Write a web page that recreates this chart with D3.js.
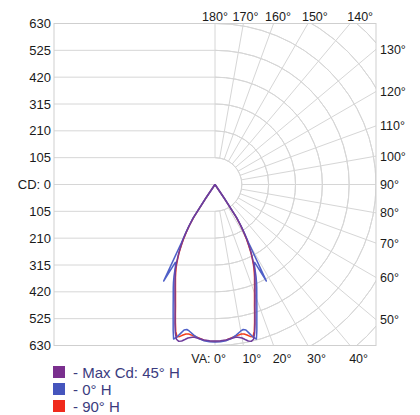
<!DOCTYPE html>
<html>
<head>
<meta charset="utf-8">
<script src="https://cdn.jsdelivr.net/npm/d3@7"></script>
<style>
  html, body { margin: 0; padding: 0; background: #fff; }
  svg { display: block; }
  text { font-family: "Liberation Sans", Arial, sans-serif; }
</style>
</head>
<body>
<svg id="chart" width="420" height="415"></svg>
<script>
// ---------- data ----------
const verticalAngles = [0,2,4,6,8,10,11,12,13,14,15,16,17,18,19,20,21,22,23,24,25,26,27,28,29,30,31,32,33,34,35,45,90,135,180];
const cdMax45H = [612,612,610,606,603,610,618,626,630,624,600,568,535,506,481,458,437,418,400,383,366,345,322,300,275,250,222,192,155,60,0,0,0,0,0];
const cd0H     = [616,616,613,606,595,582,578,582,598,615,626,594,560,530,503,478,456,436,416,395,372,352,342,428,325,262,228,196,162,66,0,0,0,0,0];
const cd90H    = [614,614,611,604,598,594,596,602,610,614,594,562,530,500,475,452,432,413,396,378,360,340,318,296,270,246,218,188,150,56,0,0,0,0,0];
const seriesNames = ["- Max Cd: 45\u00b0 H", "- 0\u00b0 H", "- 90\u00b0 H"];
const seriesColors = ["#7a2f8e", "#4555bd", "#f02a1c"];
const lineColors = ["#6f3c9c", "#4f60c8", "#f2401f"];
const cdTicks = [630,525,420,315,210,105,0,-105,-210,-315,-420,-525,-630];
const topAngleTicks = [180,170,160,150,140];
const rightAngleTicks = [130,120,110,100,90,80,70,60,50];
const bottomAngleTicks = [10,20,30,40];
const cdDomainMax = 630;

// ---------- layout ----------
const svg = d3.select("#chart");
const cx = 215, cy = 184.5, R = 161;
const x0 = cx - R, x1 = cx + R, y0 = cy - R, y1 = cy + R;
const gridColor = "#d6d6d6";
const textColor = "#1a1a1a";

const rScale = d3.scaleLinear().domain([0, cdDomainMax]).range([0, R]);
const yScale = d3.scaleLinear().domain([-cdDomainMax, cdDomainMax]).range([y1, y0]);

svg.append("defs").append("clipPath").attr("id", "boxclip")
  .append("rect").attr("x", x0).attr("y", y0).attr("width", x1 - x0).attr("height", y1 - y0);

const grid = svg.append("g");

// left half horizontal grid lines
grid.selectAll("line.h").data(cdTicks).join("line")
  .attr("x1", x0).attr("x2", cx)
  .attr("y1", d => yScale(d)).attr("y2", d => yScale(d))
  .attr("stroke", gridColor).attr("stroke-width", 1);

// right half polar arcs
const arcG = grid.append("g").attr("clip-path", "url(#boxclip)");
const arcRadii = d3.range(1, 9).map(k => k * R / 6);
arcG.selectAll("path.arc").data(arcRadii).join("path")
  .attr("d", r => d3.arc()({innerRadius: r, outerRadius: r, startAngle: 0, endAngle: Math.PI}))
  .attr("transform", `translate(${cx},${cy})`)
  .attr("fill", "none").attr("stroke", gridColor).attr("stroke-width", 1);

// radial lines from inner circle to box edge, every 10 degrees (0 = down)
function boxHit(deg) {
  const t = deg * Math.PI / 180;
  const dx = Math.sin(t), dy = Math.cos(t);
  let s = Infinity;
  if (dx > 1e-9) s = Math.min(s, R / dx);
  if (Math.abs(dy) > 1e-9) s = Math.min(s, R / Math.abs(dy));
  return [cx + dx * s, cy + dy * s];
}
const radialAngles = d3.range(0, 181, 10);
grid.selectAll("line.rad").data(radialAngles).join("line")
  .attr("x1", d => cx + Math.sin(d * Math.PI / 180) * R / 6)
  .attr("y1", d => cy + Math.cos(d * Math.PI / 180) * R / 6)
  .attr("x2", d => boxHit(d)[0])
  .attr("y2", d => boxHit(d)[1])
  .attr("stroke", gridColor).attr("stroke-width", 1);

// box border
grid.append("rect").attr("x", x0).attr("y", y0).attr("width", x1 - x0).attr("height", y1 - y0)
  .attr("fill", "none").attr("stroke", "#cfcfcf").attr("stroke-width", 1);

// ---------- axis labels ----------
const labels = svg.append("g").attr("fill", textColor);
labels.selectAll("text.cd").data(cdTicks).join("text")
  .style("font-size", "13px")
  .attr("x", x0 - 3).attr("y", d => yScale(d) + 4.5)
  .attr("text-anchor", "end")
  .text(d => d === 0 ? "CD: 0" : String(Math.abs(d)));

labels.selectAll("text.top").data(topAngleTicks).join("text")
  .style("font-size", "12.5px")
  .attr("x", d => cx + (R + 12) * Math.tan((180 - d) * Math.PI / 180))
  .attr("y", y0 - 3)
  .attr("text-anchor", "middle")
  .text(d => d + "\u00b0");

labels.selectAll("text.right").data(rightAngleTicks).join("text")
  .style("font-size", "12.5px")
  .attr("x", x1 + 4)
  .attr("y", d => boxHit(d)[1] + 4.5)
  .attr("text-anchor", "start")
  .text(d => d + "\u00b0");

labels.selectAll("text.bottom").data(bottomAngleTicks).join("text")
  .style("font-size", "12.5px")
  .attr("x", d => boxHit(180 - d)[0] + 8.5)
  .attr("y", y1 + 17.5)
  .attr("text-anchor", "middle")
  .text(d => d + "\u00b0");

labels.append("text").style("font-size", "12.5px")
  .attr("x", cx + 11).attr("y", y1 + 17.5)
  .attr("text-anchor", "end").text("VA: 0\u00b0");

// ---------- curves ----------
function mirrored(values) {
  const pts = [];
  for (let i = verticalAngles.length - 1; i >= 0; i--) pts.push([-verticalAngles[i], values[i]]);
  for (let i = 1; i < verticalAngles.length; i++) pts.push([verticalAngles[i], values[i]]);
  return pts;
}
const radial = d3.lineRadial()
  .angle(d => Math.PI - d[0] * Math.PI / 180)
  .radius(d => rScale(d[1]));

const curveG = svg.append("g").attr("transform", `translate(${cx},${cy})`);
const drawOrder = [
  {vals: cd90H, color: lineColors[2]},
  {vals: cd0H, color: lineColors[1]},
  {vals: cdMax45H, color: lineColors[0]}
];
curveG.selectAll("path.curve").data(drawOrder).join("path")
  .attr("d", d => radial(mirrored(d.vals)))
  .attr("fill", "none")
  .attr("stroke", d => d.color)
  .attr("stroke-width", 1.5)
  .attr("stroke-linejoin", "round");

// ---------- legend ----------
const legend = svg.append("g");
const legItems = legend.selectAll("g.item").data(seriesNames).join("g")
  .attr("transform", (d, i) => `translate(53,${366 + i * 17})`);
legItems.append("rect").attr("width", 12).attr("height", 12)
  .attr("fill", (d, i) => seriesColors[i]);
legItems.append("text").attr("x", 20).attr("y", 11.5)
  .attr("fill", "#3b3b7e").style("font-size", "15px")
  .text(d => d);
</script>
</body>
</html>
